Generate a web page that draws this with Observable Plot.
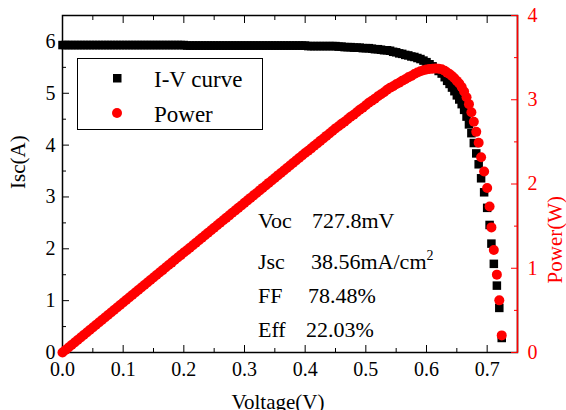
<!DOCTYPE html>
<html>
<head>
<meta charset="utf-8">
<script src="https://cdn.jsdelivr.net/npm/d3@7"></script>
<script src="https://cdn.jsdelivr.net/npm/@observablehq/plot@0.6"></script>
<style>
  html, body { margin: 0; padding: 0; background: white; }
  #chart { position: relative; width: 566px; height: 410px; overflow: hidden; font-family: "Liberation Serif", "DejaVu Serif", serif; }
  #chart > svg, #chart > .layer { position: absolute; left: 0; top: 0; }
</style>
</head>
<body>
<div id="chart"></div>
<script>
// Voltage (V)
const voltage = [
  0.000,0.005,0.010,0.015,0.020,0.025,0.030,0.035,0.040,0.045,
  0.050,0.055,0.060,0.065,0.070,0.075,0.080,0.085,0.090,0.095,
  0.100,0.105,0.110,0.115,0.120,0.125,0.130,0.135,0.140,0.145,
  0.150,0.155,0.160,0.165,0.170,0.175,0.180,0.185,0.190,0.195,
  0.200,0.205,0.210,0.215,0.220,0.225,0.230,0.235,0.240,0.245,
  0.250,0.255,0.260,0.265,0.270,0.275,0.280,0.285,0.290,0.295,
  0.300,0.305,0.310,0.315,0.320,0.325,0.330,0.335,0.340,0.345,
  0.350,0.355,0.360,0.365,0.370,0.375,0.380,0.385,0.390,0.395,
  0.400,0.405,0.410,0.415,0.420,0.425,0.430,0.435,0.440,0.445,
  0.450,0.455,0.460,0.465,0.470,0.475,0.480,0.485,0.490,0.495,
  0.500,0.505,0.510,0.515,0.520,0.525,0.530,0.535,0.540,0.545,
  0.550,0.555,0.560,0.565,0.570,0.575,0.580,0.585,0.590,0.595,
  0.600,0.605,0.610,0.615,0.620,0.625,
  0.630,0.634,0.638,0.642,0.646,0.650,0.654,0.658,0.662,0.666,
  0.670,0.674,0.678,0.682,0.686,0.690,0.695,0.700,0.704,0.707,
  0.711,0.716,0.720,0.724
];
// Current (A)
const current = [
  5.93,5.93,5.93,5.93,5.93,5.93,5.93,5.93,5.93,5.93,
  5.93,5.93,5.93,5.93,5.93,5.93,5.93,5.93,5.93,5.93,
  5.93,5.93,5.93,5.93,5.93,5.93,5.93,5.93,5.93,5.93,
  5.93,5.93,5.93,5.93,5.93,5.93,5.93,5.93,5.93,5.93,
  5.93,5.92,5.92,5.92,5.92,5.92,5.92,5.92,5.92,5.92,
  5.92,5.92,5.92,5.92,5.92,5.92,5.92,5.92,5.92,5.92,
  5.92,5.92,5.92,5.92,5.92,5.92,5.92,5.92,5.92,5.92,
  5.92,5.92,5.92,5.92,5.92,5.92,5.92,5.92,5.92,5.92,
  5.92,5.91,5.91,5.91,5.91,5.91,5.91,5.91,5.91,5.91,
  5.91,5.90,5.90,5.89,5.89,5.89,5.88,5.88,5.88,5.87,
  5.87,5.87,5.86,5.85,5.85,5.84,5.83,5.83,5.82,5.80,
  5.79,5.77,5.76,5.74,5.73,5.71,5.70,5.68,5.66,5.63,
  5.60,5.56,5.52,5.48,5.43,5.38,
  5.31,5.24,5.18,5.11,5.04,4.96,4.88,4.79,4.68,4.55,
  4.40,4.23,4.04,3.84,3.63,3.36,3.09,2.79,2.46,2.10,
  1.71,1.29,0.86,0.28
];
// Power (W)
const power = [
  0.000,0.030,0.059,0.089,0.119,0.148,0.178,0.208,0.237,0.267,
  0.297,0.326,0.356,0.385,0.415,0.445,0.474,0.504,0.534,0.563,
  0.593,0.623,0.652,0.682,0.712,0.741,0.771,0.801,0.830,0.860,
  0.890,0.919,0.949,0.978,1.008,1.038,1.067,1.097,1.127,1.156,
  1.186,1.214,1.243,1.273,1.302,1.332,1.362,1.391,1.421,1.450,
  1.480,1.510,1.539,1.569,1.598,1.628,1.658,1.687,1.717,1.746,
  1.776,1.806,1.835,1.865,1.894,1.924,1.954,1.983,2.013,2.042,
  2.072,2.102,2.131,2.161,2.190,2.220,2.250,2.279,2.309,2.338,
  2.368,2.394,2.423,2.453,2.482,2.512,2.541,2.571,2.600,2.630,
  2.660,2.685,2.714,2.739,2.768,2.798,2.822,2.852,2.881,2.906,
  2.935,2.964,2.989,3.013,3.042,3.066,3.090,3.119,3.143,3.161,
  3.185,3.202,3.226,3.243,3.266,3.283,3.306,3.323,3.339,3.350,
  3.360,3.364,3.367,3.370,3.367,3.363,
  3.345,3.322,3.305,3.281,3.256,3.224,3.192,3.152,3.098,3.030,
  2.948,2.851,2.739,2.619,2.490,2.318,2.148,1.953,1.732,1.485,
  1.216,0.924,0.619,0.203
];

const xTicks = [0, 0.1, 0.2, 0.3, 0.4, 0.5, 0.6, 0.7];
const xMinorTicks = [0.05, 0.15, 0.25, 0.35, 0.45, 0.55, 0.65, 0.75];
const yTicks = [0, 1, 2, 3, 4, 5, 6];
const yMinorTicks = [0.5, 1.5, 2.5, 3.5, 4.5, 5.5, 6.5];
const pTicks = [0, 1, 2, 3, 4];
const pMinorTicks = [0.5, 1.5, 2.5, 3.5];

const xLabel = "Voltage(V)";
const yLabel = "Isc(A)";
const pLabel = "Power(W)";
const legendLabels = ["I-V curve", "Power"];
const statNames = ["Voc", "Jsc", "FF", "Eff"];
const statValues = ["727.8mV", "38.56mA/cm", "78.48%", "22.03%"];

const ivData = voltage.map((v, i) => ({V: v, I: current[i]}));
const pData = voltage.map((v, i) => ({V: v, P: power[i]}));

const W = 566, H = 410;
const margins = {marginLeft: 62, marginRight: 49, marginTop: 15, marginBottom: 58};
const font = "Liberation Serif";
const blank = () => "";

const ivPlot = Plot.plot({
  width: W, height: H, ...margins,
  style: {fontFamily: font, fontSize: "20px", color: "black", background: "white"},
  x: {domain: [0, 0.75], axis: null},
  y: {domain: [0, 6.5], axis: null},
  marks: [
    Plot.frame({stroke: "black", strokeWidth: 1.5}),
    Plot.axisX({ticks: xTicks, tickSize: -7, tickPadding: 16, tickFormat: d3.format(".1f"), label: null}),
    Plot.axisX({ticks: xMinorTicks, tickSize: -4, tickFormat: blank, label: null}),
    Plot.axisX({anchor: "top", ticks: xTicks, tickSize: -7, tickFormat: blank, label: null}),
    Plot.axisX({anchor: "top", ticks: xMinorTicks, tickSize: -4, tickFormat: blank, label: null}),
    Plot.axisY({ticks: yTicks, tickSize: -7, tickPadding: 14, tickFormat: d3.format("d"), label: null}),
    Plot.axisY({ticks: yMinorTicks, tickSize: -4, tickFormat: blank, label: null}),
    Plot.dot(ivData, {x: "V", y: "I", symbol: "square", r: 4.8, fill: "black", stroke: "none"}),
    Plot.text([xLabel], {frameAnchor: "bottom", dx: -12, dy: 50, lineAnchor: "middle", fontSize: 21, fill: "black"}),
    Plot.text([yLabel], {frameAnchor: "left", dx: -44, dy: 5, rotate: -90, lineAnchor: "middle", fontSize: 21, fill: "black"})
  ]
});

const pPlot = Plot.plot({
  width: W, height: H, ...margins,
  style: {fontFamily: font, fontSize: "20px", color: "red", background: "transparent"},
  x: {domain: [0, 0.75], axis: null},
  y: {domain: [0, 4], axis: null},
  marks: [
    Plot.ruleX([0.75], {stroke: "red", strokeWidth: 1.5}),
    Plot.axisY({anchor: "right", ticks: pTicks, tickSize: -7, tickPadding: 17, tickFormat: d3.format("d"), color: "red", label: null}),
    Plot.axisY({anchor: "right", ticks: pMinorTicks, tickSize: -4, tickFormat: blank, color: "red", label: null}),
    Plot.dot(pData, {x: "V", y: "P", r: 5, fill: "red", stroke: "none"}),
    Plot.text([pLabel], {frameAnchor: "right", dx: 38, dy: 12, rotate: -90, lineAnchor: "middle", fontSize: 21, fill: "red"})
  ]
});

const chart = document.getElementById("chart");
chart.appendChild(ivPlot);
chart.appendChild(pPlot);

// Legend and annotation layer
const layer = d3.select(chart).append("svg")
  .attr("class", "layer")
  .attr("width", W).attr("height", H)
  .style("font-family", font);

const lg = layer.append("g");
lg.append("rect").attr("x", 77.5).attr("y", 58.5).attr("width", 185).attr("height", 71)
  .attr("fill", "white").attr("stroke", "black").attr("stroke-width", 1);
lg.append("rect").attr("x", 113).attr("y", 74).attr("width", 8.5).attr("height", 8.5).attr("fill", "black");
lg.append("circle").attr("cx", 117).attr("cy", 113).attr("r", 5).attr("fill", "red");
lg.append("text").attr("x", 154).attr("y", 87).attr("font-size", 23).attr("fill", "black").text(legendLabels[0]);
lg.append("text").attr("x", 154).attr("y", 122).attr("font-size", 23).attr("fill", "black").text(legendLabels[1]);

const st = layer.append("g").attr("font-size", 22).attr("fill", "black");
const baselines = [228, 269, 303, 337];
const valueX = [312, 311, 308, 306];
statNames.forEach((n, i) => {
  st.append("text").attr("x", 258).attr("y", baselines[i]).text(n);
  const t = st.append("text").attr("x", valueX[i]).attr("y", baselines[i]).text(statValues[i]);
  if (i === 1) t.append("tspan").attr("dy", -9).attr("font-size", 14).text("2");
});
</script>
</body>
</html>
